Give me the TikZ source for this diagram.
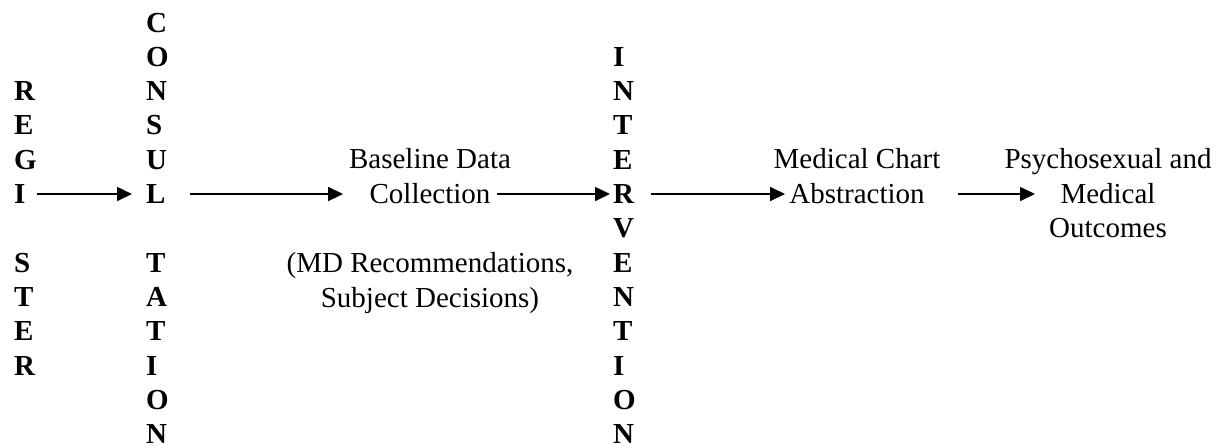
\documentclass[tikz,border=0pt]{standalone}
\usepackage{fontspec}
\setmainfont{Liberation Serif}
\usetikzlibrary{arrows.meta,calc}
\begin{document}
\begin{tikzpicture}[x=0.5pt,y=-0.5pt,
  every node/.style={inner sep=0pt, outer sep=0pt},
  letter/.style={anchor=base west, font=\fontsize{14.5}{17.2}\selectfont\bfseries},
  txt/.style={anchor=base, align=center, font=\fontsize{14.5}{17.2}\selectfont},
  arr/.style={-{Triangle[length=7.5pt,width=7pt]}, line width=0.8pt}]
\useasboundingbox (0,0) rectangle (1220,445);
% vertical words
\foreach \ch/\r [count=\i] in {R/2,E/3,G/4,I/5,S/7,T/8,E/9,R/10}
  \node[letter] (reg\i) at (14,{32+34.3*\r}) {\ch};
\foreach \ch/\r [count=\i] in {C/0,O/1,N/2,S/3,U/4,L/5,T/7,A/8,T/9,I/10,O/11,N/12}
  \node[letter] (con\i) at (146,{32+34.3*\r}) {\ch};
\foreach \ch/\r [count=\i] in {I/1,N/2,T/3,E/4,R/5,V/6,E/7,N/8,T/9,I/10,O/11,N/12}
  \node[letter] (int\i) at (613,{32+34.3*\r}) {\ch};
% text blocks (base anchor = baseline of last line)
\node[txt] (bd) at (430,203) {Baseline Data\\Collection};
\node[txt] (bdn) at (430,307) {(MD Recommendations,\\Subject Decisions)};
\node[txt] (mca) at (857,203) {Medical Chart\\Abstraction};
\node[txt] (pso) at (1108,237.5) {Psychosexual and\\Medical\\Outcomes};
% arrows
\draw[arr] ($(reg4.east)+(11.7,0)$) -- ($(con6.west)+(-14,0)$);
\draw[arr] ($(con6.east)+(24.7,0)$) -- ($(bd.west |- con6.center)+(-6,0)$);
\draw[arr] ($(bd.east |- con6.center)+(-14,0)$) -- ($(int5.west)+(-3,0)$);
\draw[arr] ($(int5.east)+(17,0)$) -- ($(mca.west |- con6.center)+(11.4,0)$);
\draw[arr] ($(mca.east |- con6.center)+(17.6,0)$) -- ($(pso.west |- con6.center)+(30.5,0)$);
\end{tikzpicture}
\end{document}
